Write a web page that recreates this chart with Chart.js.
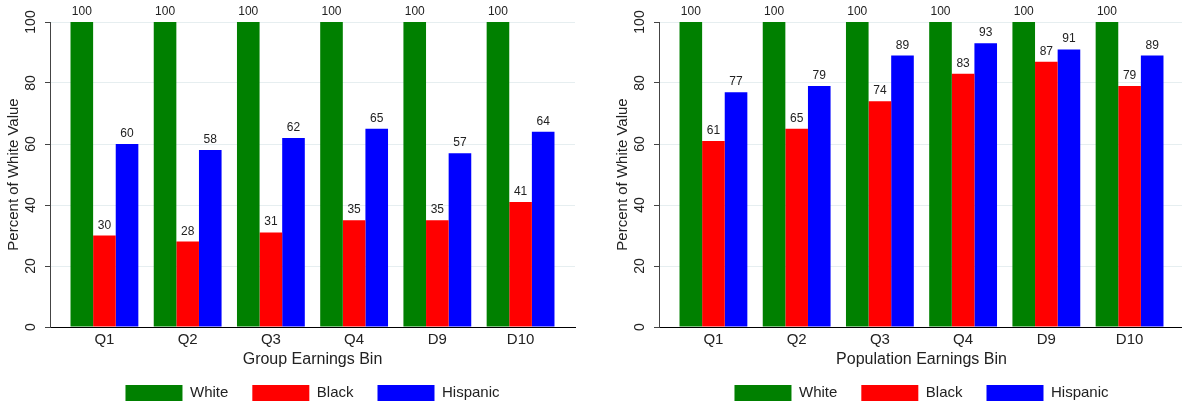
<!DOCTYPE html>
<html>
<head>
<meta charset="utf-8">
<script src="https://cdn.jsdelivr.net/npm/chart.js@4/dist/chart.umd.min.js"></script>
<style>
  html, body { margin: 0; padding: 0; background: #fff; overflow: hidden; }
  #wrap { position: relative; width: 1182px; height: 404px; overflow: hidden; }
  .panel { position: absolute; top: 0; width: 609px; height: 404px; }
</style>
</head>
<body>
<div id="wrap">
  <div class="panel" style="left:0"><canvas id="groupChart" width="609" height="404"></canvas></div>
  <div class="panel" style="left:609px"><canvas id="popChart" width="609" height="404"></canvas></div>
</div>
<script>
// earnings bins on the x axis
const bins = ['Q1', 'Q2', 'Q3', 'Q4', 'D9', 'D10'];
const yTicks = [0, 20, 40, 60, 80, 100];

// left: group earnings bin
const whiteGroup = [100, 100, 100, 100, 100, 100];
const blackGroup = [30, 28, 31, 35, 35, 41];
const hispanicGroup = [60, 58, 62, 65, 57, 64];

// right: population earnings bin
const whitePop = [100, 100, 100, 100, 100, 100];
const blackPop = [61, 65, 74, 83, 87, 79];
const hispanicPop = [77, 79, 89, 93, 91, 89];

const FONT = "'Liberation Sans', Arial, Helvetica, sans-serif";
Chart.defaults.font.family = FONT;
Chart.defaults.color = '#222';

// value labels above each bar
const barValues = {
    id: 'barValues',
    afterDatasetsDraw(chart) {
        const ctx = chart.ctx;
        ctx.save();
        ctx.font = '12px ' + FONT;
        ctx.fillStyle = '#222';
        ctx.textAlign = 'center';
        ctx.textBaseline = 'alphabetic';
        chart.data.datasets.forEach((ds, i) => {
            chart.getDatasetMeta(i).data.forEach((bar, j) => {
                ctx.fillText(String(ds.data[j].y), bar.x, bar.y - 7);
            });
        });
        ctx.restore();
    }
};

const toPoints = vals => vals.map((v, i) => ({ x: i, y: v }));

function makePanel(id, xTitle, white, black, hispanic) {
    return new Chart(document.getElementById(id), {
        type: 'bar',
        data: {
            datasets: [
                { label: 'White', data: toPoints(white), backgroundColor: '#008000' },
                { label: 'Black', data: toPoints(black), backgroundColor: '#ff0000' },
                { label: 'Hispanic', data: toPoints(hispanic), backgroundColor: '#0000ff' }
            ]
        },
        options: {
            responsive: false,
            animation: false,
            categoryPercentage: 0.815,
            barPercentage: 1.0,
            layout: { padding: { top: 22, right: 34, left: 0, bottom: 0 } },
            plugins: {
                tooltip: { enabled: false },
                legend: {
                    position: 'bottom',
                    fullSize: false,
                    maxHeight: 43,
                    labels: {
                        boxWidth: 57,
                        boxHeight: 16,
                        padding: 24,
                        color: '#222',
                        font: { size: 15, family: FONT }
                    }
                }
            },
            scales: {
                x: {
                    type: 'linear',
                    offset: false,
                    bounds: 'data',
                    min: -0.654,
                    max: bins.length - 1 + 0.654,
                    afterBuildTicks: s => { s.ticks = bins.map((b, i) => ({ value: i })); },
                    afterFit: s => { s.height = 34; },
                    grid: { display: false, drawTicks: false },
                    border: { display: true, color: '#000', width: 1 },
                    ticks: {
                        padding: 4,
                        color: '#222',
                        font: { size: 15 },
                        callback: v => bins[v]
                    },
                    title: {
                        display: true,
                        text: xTitle,
                        color: '#222',
                        font: { size: 16 },
                        padding: { top: 0, bottom: -8 }
                    }
                },
                y: {
                    min: 0,
                    max: 100,
                    afterBuildTicks: s => { s.ticks = yTicks.map(v => ({ value: v })); },
                    afterFit: s => { s.width = 50; },
                    grid: {
                        color: '#e6eef0',
                        tickColor: '#444',
                        tickLength: 5,
                        drawTicks: true
                    },
                    border: { display: true, color: '#444', width: 1 },
                    ticks: {
                        minRotation: 90,
                        maxRotation: 90,
                        crossAlign: 'center',
                        padding: 2,
                        color: '#222',
                        font: { size: 14 }
                    },
                    title: {
                        display: true,
                        text: 'Percent of White Value',
                        color: '#222',
                        font: { size: 15 },
                        padding: { top: 5, bottom: 0 }
                    }
                }
            }
        },
        plugins: [barValues]
    });
}

makePanel('groupChart', 'Group Earnings Bin', whiteGroup, blackGroup, hispanicGroup);
makePanel('popChart', 'Population Earnings Bin', whitePop, blackPop, hispanicPop);
</script>
</body>
</html>
